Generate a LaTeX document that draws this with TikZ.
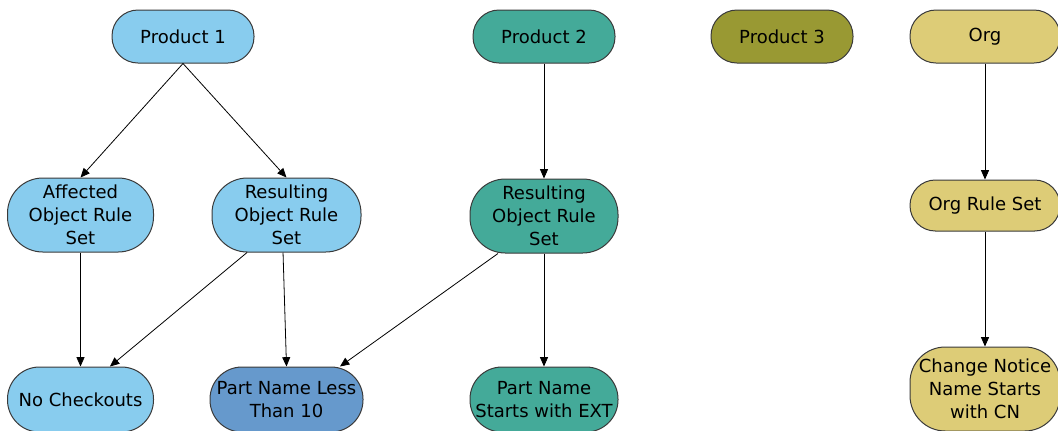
\documentclass[tikz,border=0pt]{standalone}
\usepackage{fontspec}
\setmainfont{DejaVu Sans}
\usetikzlibrary{arrows.meta}
\definecolor{cyanish}{HTML}{88CCEE}
\definecolor{tealish}{HTML}{44AA99}
\definecolor{olive}{HTML}{999933}
\definecolor{sand}{HTML}{DDCC77}
\definecolor{steel}{HTML}{6699CC}
\definecolor{edgegray}{HTML}{3A3A3A}
\tikzset{
  rule/.style={draw=edgegray, line width=0.75pt, rounded corners=19.5pt,
    inner sep=0pt, align=center, text=black,
    font=\fontsize{13.5}{17.25}\selectfont},
  tall/.style={rule, rounded corners=24pt},
  taller/.style={rule, rounded corners=26.5pt},
  arr/.style={draw=black, line width=0.6pt, -{Triangle[length=7pt,width=6pt]}},
}
\begin{document}
\begin{tikzpicture}[x=0.75pt, y=-0.75pt]
\useasboundingbox (0,0) rectangle (1058,430);
\clip (0,0) rectangle (1058,430);

% top row: products and organisation
\node[rule, fill=cyanish, minimum width=106.5pt, minimum height=39.75pt] (p1) at (183,36.5) {Product 1};
\node[rule, fill=tealish, minimum width=106.5pt, minimum height=39.75pt] (p2) at (544,36.5) {Product 2};
\node[rule, fill=olive, minimum width=106.5pt, minimum height=39.75pt] (p3) at (782,36.5) {Product 3};
\node[rule, fill=sand, minimum width=112.5pt, minimum height=39.75pt] (org) at (985,36.5) {Org};

% rule sets
\node[taller, fill=cyanish, minimum width=109.5pt, minimum height=55.5pt] (aff) at (80.5,215) {Affected\\Object Rule\\Set};
\node[taller, fill=cyanish, minimum width=111.75pt, minimum height=55.5pt] (r1) at (286.5,215) {Resulting\\Object Rule\\Set};
\node[taller, fill=tealish, minimum width=111pt, minimum height=55.5pt] (r2) at (544,216) {Resulting\\Object Rule\\Set};
\node[rule, fill=sand, minimum width=112.5pt, minimum height=38.25pt, rounded corners=19pt] (ors) at (985,205.5) {Org Rule Set};

% rules
\node[tall, fill=cyanish, minimum width=109.5pt, minimum height=48.75pt] (nc) at (80.5,399.5) {No Checkouts};
\node[tall, fill=steel, minimum width=114.75pt, minimum height=48.75pt] (pl) at (286.5,399.5) {Part Name Less\\Than 10};
\node[tall, fill=tealish, minimum width=111pt, minimum height=48.75pt] (ps) at (544,399.5) {Part Name\\Starts with EXT};
\node[taller, fill=sand, minimum width=112.5pt, minimum height=63pt] (cn) at (985,389) {Change Notice\\Name Starts\\with CN};

% connectors
\draw[arr] (p1.south) -- (aff.north);
\draw[arr] (p1.south) -- (r1.north);
\draw[arr] (p2.south) -- (r2.north);
\draw[arr] (org.south) -- (ors.north);
\draw[arr] (aff.south) -- (nc.north);
\draw[arr] ([xshift=-29.6pt]r1.south) -- ([xshift=22.1pt]nc.north);
\draw[arr] ([xshift=-2.6pt]r1.south) -- (pl.north);
\draw[arr] ([xshift=-34.5pt]r2.south) -- ([xshift=40.1pt]pl.north);
\draw[arr] (r2.south) -- (ps.north);
\draw[arr] (ors.south) -- (cn.north);
\end{tikzpicture}
\end{document}
